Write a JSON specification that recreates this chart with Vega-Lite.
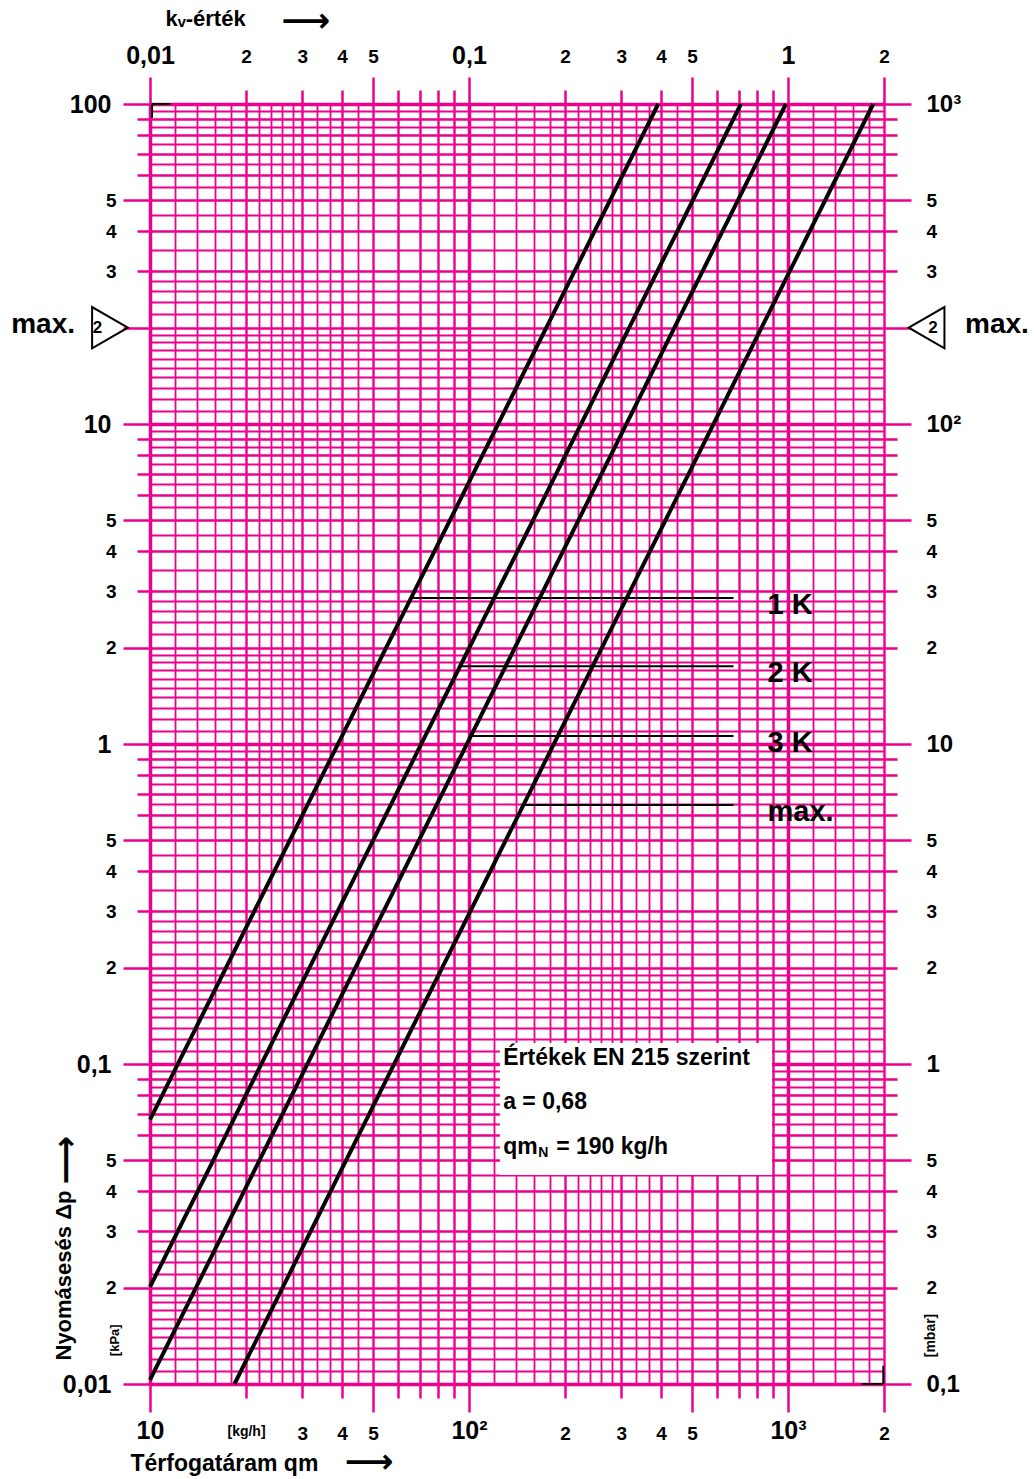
{
  "$schema": "https://vega.github.io/schema/vega-lite/v6.json",
  "width": 734,
  "height": 1280,
  "autosize": {"type": "none"},
  "padding": {"left": 150, "top": 104, "right": 150, "bottom": 95},
  "background": "white",
  "config": {"view": {"stroke": null}, "font": "Liberation Sans, DejaVu Sans"},
  "resolve": {"axis": {"x": "independent", "y": "independent"}},
  "layer": [
    {
      "data": {"values": [
        {"curve": "A", "qm": 10, "dp": 0.067}, {"curve": "A", "qm": 392, "dp": 100},
        {"curve": "B", "qm": 10, "dp": 0.0201}, {"curve": "B", "qm": 712, "dp": 100},
        {"curve": "C", "qm": 10, "dp": 0.0103}, {"curve": "C", "qm": 985, "dp": 100},
        {"curve": "D", "qm": 18.4, "dp": 0.01}, {"curve": "D", "qm": 1850, "dp": 100}
      ]},
      "mark": {"type": "line", "color": "black", "strokeWidth": 4, "strokeCap": "butt"},
      "encoding": {
        "x": {"field": "qm", "type": "quantitative",
          "scale": {"type": "log", "domain": [10, 2000], "nice": false},
          "axis": {
            "orient": "bottom",
            "values": [10,12,14,16,18,20,22,24,26,28,30,33.333,36.667,40,45,50,60,70,80,90,100,120,140,160,180,200,220,240,260,280,300,333.33,366.67,400,450,500,600,700,800,900,1000,1200,1400,1600,1800,2000],
            "grid": true, "gridColor": "#ec008c",
            "gridWidth": {"condition": [{"test": "abs(datum.value/pow(10,floor(log(datum.value)/LN10+1e-6))-1)<1e-6", "value": 3.5}, {"test": "abs((datum.value/pow(10,floor(log(datum.value)/LN10+1e-6)))-round(datum.value/pow(10,floor(log(datum.value)/LN10+1e-6))))<1e-6", "value": 2.4}], "value": 1.8},
            "domain": false,
            "tickColor": "#ec008c", "tickWidth": 2.5,
            "tickSize": {"condition": {"test": "abs(datum.value/pow(10,floor(log(datum.value)/LN10+1e-6))-1)<1e-6||abs(datum.value/pow(10,floor(log(datum.value)/LN10+1e-6))-5)<1e-6||datum.value==2000", "value": 28}, "value": 14},
            "tickOpacity": {"condition": {"test": "abs((datum.value/pow(10,floor(log(datum.value)/LN10+1e-6)))-round(datum.value/pow(10,floor(log(datum.value)/LN10+1e-6))))<1e-6", "value": 1}, "value": 0},
            "labelExpr": "datum.value==10?'10':datum.value==100?'10²':datum.value==1000?'10³':datum.value==20?'[kg/h]':indexof([30,40,50,200,300,400,500,2000],datum.value)>=0?format(datum.value/pow(10,floor(log(datum.value)/LN10+1e-6)),'.0f'):''",
            "labelFontWeight": "bold", "labelColor": "black",
            "labelFontSize": {"condition": [{"test": "datum.value==20", "value": 14}, {"test": "abs(datum.value/pow(10,floor(log(datum.value)/LN10+1e-6))-1)<1e-6", "value": 25}], "value": 19},
            "labelPadding": {"condition": [{"test": "abs(datum.value/pow(10,floor(log(datum.value)/LN10+1e-6))-1)<1e-6", "value": 6}, {"test": "abs(datum.value/pow(10,floor(log(datum.value)/LN10+1e-6))-5)<1e-6||datum.value==2000", "value": 12}], "value": 26},
            "labelOverlap": false, "labelFlush": false, "labelBound": false,
            "title": "Térfogatáram qm", "titleX": -20, "titleY": 79, "titleAlign": "left", "titleBaseline": "middle",
            "titleFontSize": 23, "titleFontWeight": "bold", "titleColor": "black"
          }
        },
        "y": {"field": "dp", "type": "quantitative",
          "scale": {"type": "log", "domain": [0.01, 100], "nice": false},
          "axis": {
            "orient": "left",
            "values": [0.01,0.011,0.012,0.013,0.014,0.015,0.016,0.017,0.018,0.019,0.02,0.022,0.024,0.026,0.028,0.03,0.035,0.04,0.045,0.05,0.055,0.06,0.065,0.07,0.075,0.08,0.085,0.09,0.095,
              0.1,0.11,0.12,0.13,0.14,0.15,0.16,0.17,0.18,0.19,0.2,0.22,0.24,0.26,0.28,0.3,0.35,0.4,0.45,0.5,0.55,0.6,0.65,0.7,0.75,0.8,0.85,0.9,0.95,
              1,1.1,1.2,1.3,1.4,1.5,1.6,1.7,1.8,1.9,2,2.2,2.4,2.6,2.8,3,3.5,4,4.5,5,5.5,6,6.5,7,7.5,8,8.5,9,9.5,
              10,11,12,13,14,15,16,17,18,19,20,22,24,26,28,30,35,40,45,50,55,60,65,70,75,80,85,90,95,100],
            "grid": true, "gridColor": "#ec008c",
            "gridWidth": {"condition": [{"test": "abs(datum.value/pow(10,floor(log(datum.value)/LN10+1e-6))-1)<1e-6", "value": 3.5}, {"test": "abs((datum.value/pow(10,floor(log(datum.value)/LN10+1e-6)))-round(datum.value/pow(10,floor(log(datum.value)/LN10+1e-6))))<1e-6", "value": 2.4}], "value": 1.8},
            "domain": false,
            "tickColor": "#ec008c", "tickWidth": 2.5,
            "tickSize": {"condition": {"test": "abs(datum.value/pow(10,floor(log(datum.value)/LN10+1e-6))-1)<1e-6||abs(datum.value/pow(10,floor(log(datum.value)/LN10+1e-6))-2)<1e-6||abs(datum.value/pow(10,floor(log(datum.value)/LN10+1e-6))-5)<1e-6", "value": 27}, "value": 13},
            "tickOpacity": {"condition": {"test": "abs((datum.value/pow(10,floor(log(datum.value)/LN10+1e-6)))-round(datum.value/pow(10,floor(log(datum.value)/LN10+1e-6))))<1e-6", "value": 1}, "value": 0},
            "labelExpr": "datum.value==100?'100':datum.value==10?'10':datum.value==1?'1':datum.value==0.1?'0,1':datum.value==0.01?'0,01':indexof([50,40,30,5,4,3,2,0.5,0.4,0.3,0.2,0.05,0.04,0.03,0.02],datum.value)>=0?format(datum.value/pow(10,floor(log(datum.value)/LN10+1e-6)),'.0f'):''",
            "labelFontWeight": "bold", "labelColor": "black",
            "labelFontSize": {"condition": {"test": "abs(datum.value/pow(10,floor(log(datum.value)/LN10+1e-6))-1)<1e-6", "value": 25}, "value": 19},
            "labelPadding": {"condition": [{"test": "abs(datum.value/pow(10,floor(log(datum.value)/LN10+1e-6))-1)<1e-6", "value": 12}, {"test": "abs(datum.value/pow(10,floor(log(datum.value)/LN10+1e-6))-2)<1e-6||abs(datum.value/pow(10,floor(log(datum.value)/LN10+1e-6))-5)<1e-6", "value": 7}], "value": 21},
            "labelOverlap": false, "labelFlush": false, "labelBound": false,
            "title": "Nyomásesés Δp", "titleAngle": 270, "titleX": -87, "titleY": 1256, "titleAlign": "left", "titleBaseline": "middle",
            "titleFontSize": 22, "titleFontWeight": "bold", "titleColor": "black"
          }
        },
        "detail": {"field": "curve"}
      }
    },
    {
      "data": {"values": [{"q1": 125, "q2": 891, "d1": 0.045, "d2": 0.1164}]},
      "mark": {"type": "rect", "fill": "white"},
      "encoding": {
        "x": {"field": "q1", "type": "quantitative", "scale": {"type": "log", "domain": [10, 2000], "nice": false}, "axis": null},
        "x2": {"field": "q2"},
        "y": {"field": "d1", "type": "quantitative", "scale": {"type": "log", "domain": [0.01, 100], "nice": false}, "axis": null},
        "y2": {"field": "d2"}
      }
    },
    {
      "data": {"values": [
        {"label": "1 K", "dp": 2.86, "q1": 66, "q2": 675},
        {"label": "2 K", "dp": 1.75, "q1": 94, "q2": 675},
        {"label": "3 K", "dp": 1.06, "q1": 101, "q2": 675},
        {"label": "max.", "dp": 0.645, "q1": 148, "q2": 675}
      ]},
      "mark": {"type": "rule", "color": "black", "strokeWidth": 2},
      "encoding": {
        "x": {"field": "q1", "type": "quantitative", "scale": {"type": "log", "domain": [10, 2000], "nice": false},
          "axis": {
            "orient": "top",
            "values": [10,12,14,16,18,20,22,24,26,28,30,33.333,36.667,40,45,50,60,70,80,90,100,120,140,160,180,200,220,240,260,280,300,333.33,366.67,400,450,500,600,700,800,900,1000,1200,1400,1600,1800,2000],
            "grid": false, "domain": false,
            "tickColor": "#ec008c", "tickWidth": 2.5,
            "tickSize": {"condition": {"test": "abs(datum.value/pow(10,floor(log(datum.value)/LN10+1e-6))-1)<1e-6||abs(datum.value/pow(10,floor(log(datum.value)/LN10+1e-6))-5)<1e-6||datum.value==2000", "value": 27}, "value": 14},
            "tickOpacity": {"condition": {"test": "abs((datum.value/pow(10,floor(log(datum.value)/LN10+1e-6)))-round(datum.value/pow(10,floor(log(datum.value)/LN10+1e-6))))<1e-6", "value": 1}, "value": 0},
            "labelExpr": "datum.value==10?'0,01':datum.value==100?'0,1':datum.value==1000?'1':indexof([20,30,40,50,200,300,400,500,2000],datum.value)>=0?format(datum.value/pow(10,floor(log(datum.value)/LN10+1e-6)),'.0f'):''",
            "labelFontWeight": "bold", "labelColor": "black",
            "labelFontSize": {"condition": {"test": "abs(datum.value/pow(10,floor(log(datum.value)/LN10+1e-6))-1)<1e-6", "value": 25}, "value": 19},
            "labelPadding": {"condition": [{"test": "abs(datum.value/pow(10,floor(log(datum.value)/LN10+1e-6))-1)<1e-6", "value": 9}, {"test": "abs(datum.value/pow(10,floor(log(datum.value)/LN10+1e-6))-5)<1e-6||datum.value==2000", "value": 11}], "value": 24},
            "labelOverlap": false, "labelFlush": false, "labelBound": false,
            "title": "kᵥ-érték", "titleX": 15, "titleY": -86, "titleAlign": "left", "titleBaseline": "middle",
            "titleFontSize": 22, "titleFontWeight": "bold", "titleColor": "black"
          }
        },
        "x2": {"field": "q2"},
        "y": {"field": "dp", "type": "quantitative", "scale": {"type": "log", "domain": [0.01, 100], "nice": false},
          "axis": {
            "orient": "right",
            "values": [0.01,0.011,0.012,0.013,0.014,0.015,0.016,0.017,0.018,0.019,0.02,0.022,0.024,0.026,0.028,0.03,0.035,0.04,0.045,0.05,0.055,0.06,0.065,0.07,0.075,0.08,0.085,0.09,0.095,
              0.1,0.11,0.12,0.13,0.14,0.15,0.16,0.17,0.18,0.19,0.2,0.22,0.24,0.26,0.28,0.3,0.35,0.4,0.45,0.5,0.55,0.6,0.65,0.7,0.75,0.8,0.85,0.9,0.95,
              1,1.1,1.2,1.3,1.4,1.5,1.6,1.7,1.8,1.9,2,2.2,2.4,2.6,2.8,3,3.5,4,4.5,5,5.5,6,6.5,7,7.5,8,8.5,9,9.5,
              10,11,12,13,14,15,16,17,18,19,20,22,24,26,28,30,35,40,45,50,55,60,65,70,75,80,85,90,95,100],
            "grid": false, "domain": false,
            "tickColor": "#ec008c", "tickWidth": 2.5,
            "tickSize": {"condition": {"test": "abs(datum.value/pow(10,floor(log(datum.value)/LN10+1e-6))-1)<1e-6||abs(datum.value/pow(10,floor(log(datum.value)/LN10+1e-6))-5)<1e-6||datum.value==20", "value": 27}, "value": 13},
            "tickOpacity": {"condition": {"test": "abs((datum.value/pow(10,floor(log(datum.value)/LN10+1e-6)))-round(datum.value/pow(10,floor(log(datum.value)/LN10+1e-6))))<1e-6", "value": 1}, "value": 0},
            "labelExpr": "datum.value==100?'10³':datum.value==10?'10²':datum.value==1?'10':datum.value==0.1?'1':datum.value==0.01?'0,1':indexof([50,40,30,5,4,3,2,0.5,0.4,0.3,0.2,0.05,0.04,0.03,0.02],datum.value)>=0?format(datum.value/pow(10,floor(log(datum.value)/LN10+1e-6)),'.0f'):''",
            "labelFontWeight": "bold", "labelColor": "black",
            "labelFontSize": {"condition": {"test": "abs(datum.value/pow(10,floor(log(datum.value)/LN10+1e-6))-1)<1e-6", "value": 24}, "value": 19},
            "labelPadding": {"condition": {"test": "abs(datum.value/pow(10,floor(log(datum.value)/LN10+1e-6))-1)<1e-6||abs(datum.value/pow(10,floor(log(datum.value)/LN10+1e-6))-5)<1e-6||datum.value==20", "value": 15}, "value": 29},
            "labelOverlap": false, "labelFlush": false, "labelBound": false,
            "title": "[mbar]", "titleAngle": 270, "titleX": 46, "titleY": 1231, "titleAlign": "center", "titleBaseline": "middle",
            "titleFontSize": 14, "titleFontWeight": "bold", "titleColor": "black"
          }
        }
      }
    },
    {
      "data": {"values": [
        {"label": "1 K", "dp": 2.86, "q1": 66, "q2": 675},
        {"label": "2 K", "dp": 1.75, "q1": 94, "q2": 675},
        {"label": "3 K", "dp": 1.06, "q1": 101, "q2": 675},
        {"label": "max.", "dp": 0.645, "q1": 148, "q2": 675}
      ]},
      "mark": {"type": "text", "align": "left", "baseline": "middle", "dx": 34, "dy": 7, "fontSize": 29, "fontWeight": "bold", "color": "black"},
      "encoding": {
        "x": {"field": "q2", "type": "quantitative", "scale": {"type": "log", "domain": [10, 2000], "nice": false}, "axis": null},
        "y": {"field": "dp", "type": "quantitative", "scale": {"type": "log", "domain": [0.01, 100], "nice": false}, "axis": null},
        "text": {"field": "label"}
      }
    },
    {
      "data": {"values": [
        {"x1": 10.15, "x2": 11.6, "y1": 100, "y2": 100},
        {"x1": 10.15, "x2": 10.15, "y1": 100, "y2": 90.5},
        {"x1": 1700, "x2": 1990, "y1": 0.01, "y2": 0.01},
        {"x1": 1990, "x2": 1990, "y1": 0.01, "y2": 0.0114}
      ]},
      "mark": {"type": "rule", "color": "black", "strokeWidth": 2},
      "encoding": {
        "x": {"field": "x1", "type": "quantitative", "scale": {"type": "log", "domain": [10, 2000], "nice": false}, "axis": null},
        "x2": {"field": "x2"},
        "y": {"field": "y1", "type": "quantitative", "scale": {"type": "log", "domain": [0.01, 100], "nice": false}, "axis": null},
        "y2": {"field": "y2"}
      }
    },
    {
      "data": {"values": [
        {"t": "Értékek EN 215 szerint", "q": 128, "dp": 0.1045},
        {"t": "a = 0,68", "q": 128, "dp": 0.076},
        {"t": "qm", "q": 128, "dp": 0.0551}
      ]},
      "mark": {"type": "text", "align": "left", "baseline": "middle", "fontSize": 23, "fontWeight": "bold", "color": "black"},
      "encoding": {
        "x": {"field": "q", "type": "quantitative", "scale": {"type": "log", "domain": [10, 2000], "nice": false}, "axis": null},
        "y": {"field": "dp", "type": "quantitative", "scale": {"type": "log", "domain": [0.01, 100], "nice": false}, "axis": null},
        "text": {"field": "t"}
      }
    },
    {
      "data": {"values": [{"t": "N", "q": 128, "dp": 0.0551}]},
      "mark": {"type": "text", "align": "left", "baseline": "middle", "dx": 35, "dy": 6, "fontSize": 14, "fontWeight": "bold", "color": "black"},
      "encoding": {
        "x": {"field": "q", "type": "quantitative", "scale": {"type": "log", "domain": [10, 2000], "nice": false}, "axis": null},
        "y": {"field": "dp", "type": "quantitative", "scale": {"type": "log", "domain": [0.01, 100], "nice": false}, "axis": null},
        "text": {"field": "t"}
      }
    },
    {
      "data": {"values": [{"t": "= 190 kg/h", "q": 128, "dp": 0.0551}]},
      "mark": {"type": "text", "align": "left", "baseline": "middle", "dx": 53, "fontSize": 23, "fontWeight": "bold", "color": "black"},
      "encoding": {
        "x": {"field": "q", "type": "quantitative", "scale": {"type": "log", "domain": [10, 2000], "nice": false}, "axis": null},
        "y": {"field": "dp", "type": "quantitative", "scale": {"type": "log", "domain": [0.01, 100], "nice": false}, "axis": null},
        "text": {"field": "t"}
      }
    },
    {
      "data": {"values": [{"t": "max.", "q": 5.82, "dp": 20}]},
      "mark": {"type": "text", "align": "right", "baseline": "middle", "dy": -3, "fontSize": 28, "fontWeight": "bold", "color": "black"},
      "encoding": {
        "x": {"field": "q", "type": "quantitative", "scale": {"type": "log", "domain": [10, 2000], "nice": false}, "axis": null},
        "y": {"field": "dp", "type": "quantitative", "scale": {"type": "log", "domain": [0.01, 100], "nice": false}, "axis": null},
        "text": {"field": "t"}
      }
    },
    {
      "data": {"values": [{"t": "max.", "q": 3590, "dp": 20}]},
      "mark": {"type": "text", "align": "left", "baseline": "middle", "dy": -3, "fontSize": 28, "fontWeight": "bold", "color": "black"},
      "encoding": {
        "x": {"field": "q", "type": "quantitative", "scale": {"type": "log", "domain": [10, 2000], "nice": false}, "axis": null},
        "y": {"field": "dp", "type": "quantitative", "scale": {"type": "log", "domain": [0.01, 100], "nice": false}, "axis": null},
        "text": {"field": "t"}
      }
    },
    {
      "data": {"values": [
        {"q": 7.49, "dp": 20, "shape": "triangle-right"},
        {"q": 2720, "dp": 20, "shape": "triangle-left"}
      ]},
      "mark": {"type": "point", "filled": false, "stroke": "black", "strokeWidth": 2, "size": 1700, "opacity": 1},
      "encoding": {
        "x": {"field": "q", "type": "quantitative", "scale": {"type": "log", "domain": [10, 2000], "nice": false}, "axis": null},
        "y": {"field": "dp", "type": "quantitative", "scale": {"type": "log", "domain": [0.01, 100], "nice": false}, "axis": null},
        "shape": {"field": "shape", "type": "nominal", "scale": null, "legend": null}
      }
    },
    {
      "data": {"values": [
        {"t": "2", "q": 6.85, "dp": 20},
        {"t": "2", "q": 2848, "dp": 20}
      ]},
      "mark": {"type": "text", "align": "center", "baseline": "middle", "fontSize": 17, "fontWeight": "bold", "color": "black"},
      "encoding": {
        "x": {"field": "q", "type": "quantitative", "scale": {"type": "log", "domain": [10, 2000], "nice": false}, "axis": null},
        "y": {"field": "dp", "type": "quantitative", "scale": {"type": "log", "domain": [0.01, 100], "nice": false}, "axis": null},
        "text": {"field": "t"}
      }
    },
    {
      "data": {"values": [{"t": "[kPa]", "q": 7.78, "dp": 0.0137}]},
      "mark": {"type": "text", "align": "center", "baseline": "middle", "angle": 270, "fontSize": 13, "fontWeight": "bold", "color": "black"},
      "encoding": {
        "x": {"field": "q", "type": "quantitative", "scale": {"type": "log", "domain": [10, 2000], "nice": false}, "axis": null},
        "y": {"field": "dp", "type": "quantitative", "scale": {"type": "log", "domain": [0.01, 100], "nice": false}, "axis": null},
        "text": {"field": "t"}
      }
    },
    {
      "data": {"values": [
        {"q": 30.8, "dp": 180, "a": 0},
        {"q": 48.6, "dp": 0.00565, "a": 0},
        {"q": 5.5, "dp": 0.0501, "a": 270}
      ]},
      "mark": {"type": "text", "align": "center", "baseline": "middle", "fontSize": 34, "font": "DejaVu Sans", "fontWeight": "bold", "color": "black", "text": "⟶"},
      "encoding": {
        "x": {"field": "q", "type": "quantitative", "scale": {"type": "log", "domain": [10, 2000], "nice": false}, "axis": null},
        "y": {"field": "dp", "type": "quantitative", "scale": {"type": "log", "domain": [0.01, 100], "nice": false}, "axis": null},
        "angle": {"field": "a", "type": "quantitative", "scale": null}
      }
    }
  ]
}
